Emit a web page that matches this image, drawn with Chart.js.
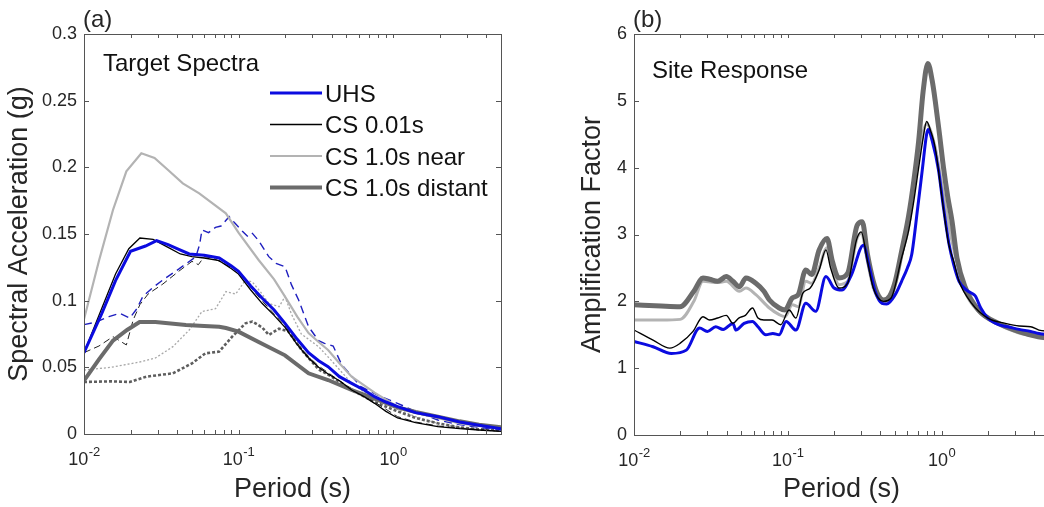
<!DOCTYPE html>
<html>
<head>
<meta charset="utf-8">
<script src="https://cdn.jsdelivr.net/npm/chart.js@4.4.1/dist/chart.umd.min.js"></script>
<style>
  html, body { margin: 0; padding: 0; background: #fff; overflow: hidden; }
  body { width: 1044px; height: 507px; position: relative; }
  #boxA { position: absolute; left: 0; top: 0; width: 520px; height: 507px; }
  #boxB { position: absolute; left: 573px; top: 0; width: 497px; height: 507px; }
</style>
</head>
<body>
<div id="boxA"><canvas id="chartA"></canvas></div>
<div id="boxB"><canvas id="chartB"></canvas></div>
<script>
// ---- axes ----
const xTickVals = [0.01, 0.1, 1];
const xTickExp = ['-2', '-1', '0'];
const yTicksA = [0, 0.05, 0.1, 0.15, 0.2, 0.25, 0.3];
const yTickTextA = ['0', '0.05', '0.1', '0.15', '0.2', '0.25', '0.3'];
const yTicksB = [0, 1, 2, 3, 4, 5, 6];
const legendLabels = ['UHS', 'CS 0.01s', 'CS 1.0s near', 'CS 1.0s distant'];

// ---- (a) target spectra, solid ----
const tUhsA = [0.01, 0.013, 0.016, 0.02, 0.025, 0.0295, 0.035, 0.04, 0.048, 0.06, 0.075, 0.09, 0.1, 0.12, 0.142, 0.17, 0.2, 0.24, 0.284, 0.33, 0.38, 0.45, 0.54, 0.65, 0.76, 0.9, 1.07, 1.4, 1.95, 2.7, 3.6, 5];
const uhsA = [0.061, 0.09, 0.115, 0.137, 0.141, 0.145, 0.142, 0.139, 0.135, 0.134, 0.132, 0.126, 0.122, 0.111, 0.102, 0.093, 0.083, 0.071, 0.061, 0.055, 0.0505, 0.043, 0.038, 0.033, 0.028, 0.024, 0.0205, 0.016, 0.013, 0.009, 0.0065, 0.004];
const tCs001A = [0.01, 0.013, 0.016, 0.0195, 0.023, 0.028, 0.035, 0.042, 0.05, 0.06, 0.075, 0.09, 0.1, 0.12, 0.142, 0.17, 0.2, 0.24, 0.284, 0.33, 0.38, 0.45, 0.54, 0.65, 0.76, 0.9, 1.07, 1.4, 1.95, 2.7, 3.6, 5];
const cs001A = [0.061, 0.094, 0.12, 0.139, 0.147, 0.146, 0.14, 0.135, 0.133, 0.132, 0.13, 0.124, 0.12, 0.108, 0.098, 0.089, 0.08, 0.067, 0.057, 0.05, 0.045, 0.04, 0.033, 0.028, 0.023, 0.017, 0.012, 0.0085, 0.0055, 0.004, 0.003, 0.002];
const tNearA = [0.01, 0.0125, 0.0154, 0.0188, 0.0235, 0.0286, 0.035, 0.0436, 0.0557, 0.0828, 0.1, 0.135, 0.17, 0.2, 0.24, 0.284, 0.33, 0.38, 0.45, 0.54, 0.76, 1.07, 1.4, 1.95, 2.7, 3.6, 5];
const nearA = [0.086, 0.13, 0.168, 0.197, 0.2105, 0.207, 0.198, 0.188, 0.1805, 0.1655, 0.151, 0.1305, 0.116, 0.103, 0.088, 0.0757, 0.069, 0.063, 0.053, 0.043, 0.031, 0.0205, 0.016, 0.012, 0.008, 0.006, 0.004];
const tDistA = [0.01, 0.0125, 0.0154, 0.019, 0.0229, 0.029, 0.0457, 0.06, 0.075, 0.083, 0.1, 0.135, 0.2, 0.284, 0.38, 0.54, 0.76, 1.07, 1.4, 1.95, 2.7, 3.6, 5];
const distA = [0.04, 0.056, 0.07, 0.078, 0.084, 0.084, 0.0818, 0.081, 0.0805, 0.0795, 0.0768, 0.069, 0.059, 0.0455, 0.0405, 0.033, 0.0265, 0.02, 0.0165, 0.013, 0.0095, 0.007, 0.005];

// ---- (a) dashed / dotted ----
const tUhsDashA = [0.01, 0.012, 0.0145, 0.017, 0.0198, 0.022, 0.024, 0.028, 0.0324, 0.0414, 0.053, 0.056, 0.058, 0.064, 0.071, 0.077, 0.087, 0.095, 0.106, 0.115, 0.123, 0.135, 0.157, 0.175, 0.2, 0.22, 0.245, 0.284, 0.33, 0.36, 0.41, 0.465, 0.62, 0.8, 1.07, 1.4, 1.95, 2.7, 3.6, 5];
const uhsDashA = [0.082, 0.084, 0.088, 0.0905, 0.087, 0.094, 0.103, 0.11, 0.1155, 0.124, 0.133, 0.142, 0.153, 0.151, 0.155, 0.156, 0.163, 0.158, 0.152, 0.148, 0.1505, 0.145, 0.133, 0.128, 0.1255, 0.112, 0.1005, 0.0805, 0.07, 0.068, 0.066, 0.052, 0.0355, 0.029, 0.023, 0.017, 0.0105, 0.007, 0.005, 0.003];
const tCsDashA = [0.01, 0.0125, 0.0154, 0.0188, 0.0208, 0.023, 0.026, 0.0324, 0.041, 0.05, 0.055, 0.06, 0.068, 0.08, 0.1, 0.12, 0.142, 0.17, 0.2, 0.24, 0.284, 0.33, 0.38, 0.45, 0.54, 0.76, 1.07, 1.4, 1.95, 2.7, 5];
const csDashA = [0.061, 0.066, 0.073, 0.0668, 0.0855, 0.097, 0.105, 0.1125, 0.122, 0.1295, 0.127, 0.133, 0.132, 0.128, 0.122, 0.11, 0.1, 0.09, 0.081, 0.068, 0.058, 0.051, 0.046, 0.04, 0.034, 0.024, 0.013, 0.009, 0.006, 0.0045, 0.002];
const tNearDotA = [0.01, 0.015, 0.0229, 0.029, 0.0376, 0.048, 0.058, 0.071, 0.083, 0.096, 0.111, 0.123, 0.14, 0.157, 0.183, 0.2, 0.22, 0.255, 0.33, 0.4, 0.54, 0.76, 1.07, 1.4, 1.95, 2.7, 3.6, 5];
const nearDotA = [0.048, 0.05, 0.054, 0.057, 0.0655, 0.078, 0.0918, 0.094, 0.1068, 0.105, 0.1155, 0.114, 0.106, 0.098, 0.0955, 0.103, 0.09, 0.075, 0.0655, 0.055, 0.038, 0.026, 0.0185, 0.013, 0.008, 0.005, 0.003, 0.002];
const tDistDotA = [0.01, 0.015, 0.0198, 0.0253, 0.0376, 0.05, 0.061, 0.075, 0.091, 0.111, 0.123, 0.142, 0.157, 0.183, 0.21, 0.256, 0.33, 0.4, 0.54, 0.76, 1.07, 1.4, 1.95, 2.7, 3.6, 5];
const distDotA = [0.039, 0.0395, 0.039, 0.043, 0.0455, 0.053, 0.0605, 0.0618, 0.073, 0.083, 0.0843, 0.08, 0.0743, 0.079, 0.077, 0.063, 0.0485, 0.043, 0.033, 0.024, 0.017, 0.012, 0.008, 0.005, 0.0035, 0.003];

// ---- (b) site response ----
const tDistB = [0.01, 0.015, 0.0199, 0.0245, 0.0281, 0.031, 0.035, 0.0398, 0.044, 0.0485, 0.0535, 0.062, 0.07, 0.076, 0.088, 0.096, 0.107, 0.117, 0.131, 0.143, 0.16, 0.18, 0.195, 0.215, 0.245, 0.283, 0.305, 0.33, 0.36, 0.39, 0.42, 0.46, 0.5, 0.55, 0.61, 0.66, 0.71, 0.76, 0.815, 0.87, 0.91, 0.97, 1.03, 1.1, 1.17, 1.26, 1.42, 1.74, 2.35, 3.16, 4.26, 5];
const distB = [1.95, 1.93, 1.92, 2.15, 2.35, 2.33, 2.3, 2.37, 2.3, 2.22, 2.35, 2.27, 2.15, 2.02, 1.9, 1.87, 2.05, 2.1, 2.47, 2.4, 2.77, 2.94, 2.6, 2.35, 2.42, 3.14, 3.19, 2.7, 2.3, 2.08, 2.02, 2.08, 2.3, 2.75, 3.27, 3.8, 4.4, 5.15, 5.56, 5.3, 5.0, 4.5, 4.0, 3.55, 3.2, 2.65, 2.22, 1.87, 1.67, 1.55, 1.47, 1.45];
const tNearB = [0.01, 0.015, 0.02, 0.0245, 0.0281, 0.035, 0.0398, 0.0485, 0.0535, 0.062, 0.076, 0.088, 0.096, 0.107, 0.117, 0.131, 0.143, 0.16, 0.18, 0.195, 0.215, 0.245, 0.283, 0.3, 0.33, 0.36, 0.42, 0.47, 0.55, 0.61, 0.71, 0.8, 0.91, 1.03, 1.17, 1.42, 1.74, 2.35, 3.16, 4.26, 5];
const nearB = [1.72, 1.72, 1.73, 2.0, 2.3, 2.28, 2.3, 2.15, 2.2, 2.1, 1.9, 1.8, 1.77, 1.95, 1.92, 2.3, 2.27, 2.5, 2.8, 2.5, 2.25, 2.3, 2.95, 3.02, 2.6, 2.2, 2.0, 2.05, 2.7, 3.1, 4.2, 4.65, 4.3, 3.6, 2.9, 2.15, 1.85, 1.65, 1.53, 1.47, 1.45];
const tCs001B = [0.01, 0.0133, 0.0171, 0.0199, 0.0242, 0.0281, 0.031, 0.035, 0.0398, 0.044, 0.048, 0.053, 0.059, 0.064, 0.07, 0.079, 0.09, 0.102, 0.113, 0.125, 0.14, 0.16, 0.177, 0.19, 0.215, 0.245, 0.28, 0.3, 0.33, 0.36, 0.42, 0.47, 0.55, 0.61, 0.66, 0.71, 0.76, 0.8, 0.85, 0.91, 1.0, 1.11, 1.2, 1.3, 1.57, 2.0, 2.6, 3.2, 3.8, 4.3, 5];
const cs001B = [1.57, 1.42, 1.3, 1.37, 1.55, 1.77, 1.72, 1.75, 1.79, 1.67, 1.75, 1.79, 1.9, 1.75, 1.72, 1.72, 1.65, 1.87, 1.75, 2.12, 2.2, 2.47, 2.77, 2.5, 2.2, 2.27, 2.92, 3.04, 2.6, 2.2, 2.0, 2.05, 2.65, 3.05, 3.5, 4.0, 4.45, 4.69, 4.55, 4.3, 3.6, 2.87, 2.6, 2.3, 1.97, 1.75, 1.67, 1.63, 1.62, 1.57, 1.55];
const tUhsB = [0.01, 0.0133, 0.0175, 0.0219, 0.0267, 0.03, 0.034, 0.038, 0.044, 0.046, 0.052, 0.059, 0.064, 0.072, 0.08, 0.088, 0.0975, 0.113, 0.131, 0.152, 0.177, 0.2, 0.225, 0.26, 0.31, 0.34, 0.37, 0.41, 0.44, 0.5, 0.55, 0.6, 0.64, 0.7, 0.75, 0.8, 0.82, 0.87, 0.955, 1.03, 1.12, 1.2, 1.3, 1.45, 1.57, 1.66, 1.8, 2.0, 2.35, 2.7, 3.2, 3.8, 4.3, 5];
const uhsB = [1.4, 1.32, 1.22, 1.27, 1.6, 1.55, 1.62, 1.58, 1.67, 1.57, 1.67, 1.7, 1.62, 1.5, 1.52, 1.5, 1.7, 1.57, 1.97, 1.85, 2.37, 2.2, 2.17, 2.4, 2.84, 2.5, 2.15, 1.97, 1.96, 2.1, 2.3, 2.5, 2.7, 3.4, 3.97, 4.5, 4.57, 4.4, 3.97, 3.4, 2.85, 2.55, 2.3, 2.17, 2.12, 2.08, 1.9, 1.75, 1.65, 1.62, 1.58, 1.55, 1.52, 1.5];

const FONT = 'Arial, "Liberation Sans", Helvetica, sans-serif';
const TXT = '#262626';
const BLUE = '#0b0be0';
const LIGHT = '#b3b3b3';
const DARK = '#6b6b6b';

function pts(xs, ys) {
    return xs.map((x, i) => ({ x: x, y: ys[i] }));
}

function line(label, xs, ys, color, width, dash, smooth) {
    return {
        label: label,
        data: pts(xs, ys),
        borderColor: color,
        borderWidth: width,
        borderDash: dash || [],
        pointRadius: 0,
        fill: false,
        cubicInterpolationMode: smooth ? 'monotone' : 'default',
        tension: smooth ? 0.4 : 0
    };
}

// 內側刻度、外框與 10^n 標籤 (MATLAB 風格)
const matlabAxes = {
    id: 'matlabAxes',
    afterDatasetsDraw(chart) {
        const { ctx, chartArea: a, scales: { x, y } } = chart;
        ctx.save();
        ctx.strokeStyle = '#555';
        ctx.lineWidth = 1;
        ctx.beginPath();
        y.ticks.forEach(t => {
            const py = Math.round(y.getPixelForValue(t.value)) + 0.5;
            ctx.moveTo(a.left, py); ctx.lineTo(a.left + 5, py);
            ctx.moveTo(a.right, py); ctx.lineTo(a.right - 5, py);
        });
        for (let d = -2; d <= 0; d++) {
            for (let m = 1; m <= 9; m++) {
                const v = m * Math.pow(10, d);
                if (v < x.min || v > x.max) continue;
                const px = Math.round(x.getPixelForValue(v)) + 0.5;
                ctx.moveTo(px, a.bottom); ctx.lineTo(px, a.bottom - 4);
                ctx.moveTo(px, a.top); ctx.lineTo(px, a.top + 4);
            }
        }
        ctx.stroke();
        ctx.strokeRect(Math.round(a.left) + 0.5, Math.round(a.top) + 0.5,
            Math.round(a.right - a.left), Math.round(a.bottom - a.top));

        // x 軸標籤: 10 與上標指數
        ctx.fillStyle = TXT;
        ctx.textBaseline = 'alphabetic';
        ctx.textAlign = 'left';
        xTickVals.forEach((v, i) => {
            const px = x.getPixelForValue(v);
            ctx.font = '18px ' + FONT;
            const wb = ctx.measureText('10').width;
            ctx.font = '13px ' + FONT;
            const we = ctx.measureText(xTickExp[i]).width;
            const x0 = px - (wb + we) / 2;
            ctx.font = '18px ' + FONT;
            ctx.fillText('10', x0, a.bottom + 31);
            ctx.font = '13px ' + FONT;
            ctx.fillText(xTickExp[i], x0 + wb + 0.5, a.bottom + 22);
        });
        ctx.restore();
    }
};

// 面板字母、內部標註、圖例
const panelText = {
    id: 'panelText',
    afterDraw(chart, args, opts) {
        const ctx = chart.ctx;
        const a = chart.chartArea;
        ctx.save();
        ctx.fillStyle = TXT;
        ctx.textBaseline = 'alphabetic';
        ctx.textAlign = 'left';
        ctx.font = '24px ' + FONT;
        ctx.fillText(opts.letter, a.left - 1, 27);
        ctx.fillStyle = '#111';
        ctx.fillText(opts.note, a.left + opts.noteDx, opts.noteY);
        if (opts.legend) {
            legendLabels.forEach((lab, i) => {
                const ds = chart.data.datasets.find(d => d.label === lab);
                const yy = 93 + i * 31.5;
                ctx.strokeStyle = ds.borderColor;
                ctx.lineWidth = ds.borderWidth;
                ctx.beginPath();
                ctx.moveTo(270, yy); ctx.lineTo(322, yy);
                ctx.stroke();
                ctx.textBaseline = 'middle';
                ctx.fillText(lab, 325, yy + 2);
            });
        }
        ctx.restore();
    }
};

function makeOptions(p) {
    return {
        responsive: true,
        maintainAspectRatio: false,
        animation: false,
        layout: { padding: { left: 0, right: p.padRight, top: 34, bottom: 0 } },
        plugins: {
            legend: { display: false },
            tooltip: { enabled: false },
            panelText: p.text
        },
        scales: {
            x: {
                type: 'logarithmic',
                min: 0.01,
                max: 5,
                grid: { display: false, drawTicks: false },
                border: { display: false },
                afterBuildTicks: s => { s.ticks = xTickVals.map(v => ({ value: v })); },
                afterFit: s => { s.height = p.xHeight; },
                ticks: { display: false },
                title: {
                    display: true,
                    text: 'Period (s)',
                    color: TXT,
                    font: { family: FONT, size: 27 },
                    padding: { top: 0, bottom: 1 }
                }
            },
            y: {
                min: p.yTicks[0],
                max: p.yTicks[p.yTicks.length - 1],
                grid: { display: false, drawTicks: false },
                border: { display: false },
                afterBuildTicks: s => { s.ticks = p.yTicks.map(v => ({ value: v })); },
                afterFit: s => { s.width = p.yWidth; },
                ticks: {
                    padding: 7,
                    color: TXT,
                    font: { family: FONT, size: 18 },
                    callback: v => p.yText[p.yTicks.indexOf(v)]
                },
                title: {
                    display: true,
                    text: p.yTitle,
                    color: TXT,
                    font: { family: FONT, size: 27 },
                    padding: { top: 3, bottom: 0 }
                }
            }
        }
    };
}

function initCharts() {
    // (a) 目標反應譜
    new Chart(document.getElementById('chartA'), {
        type: 'line',
        data: {
            datasets: [
                line('UHS', tUhsA, uhsA, BLUE, 3),
                line('CS 0.01s', tCs001A, cs001A, '#000', 1.3),
                line('CS 1.0s distant', tDistA, distA, DARK, 4),
                line('CS 1.0s near', tNearA, nearA, LIGHT, 2.2),
                line('UHS surface', tUhsDashA, uhsDashA, '#1f1fbf', 1.4, [8, 5]),
                line('CS 0.01s surface', tCsDashA, csDashA, '#222', 1, [7, 4]),
                line('CS 1.0s distant surface', tDistDotA, distDotA, '#5e5e5e', 2.6, [3, 2]),
                line('CS 1.0s near surface', tNearDotA, nearDotA, '#a8a8a8', 1.3, [2, 2])
            ]
        },
        options: makeOptions({
            padRight: 19, xHeight: 73, yWidth: 84,
            yTicks: yTicksA, yText: yTickTextA,
            yTitle: 'Spectral Acceleration (g)',
            text: { letter: '(a)', note: 'Target Spectra', noteDx: 19, noteY: 71, legend: true }
        }),
        plugins: [matlabAxes, panelText]
    });

    // (b) 場址反應
    new Chart(document.getElementById('chartB'), {
        type: 'line',
        data: {
            datasets: [
                line('CS 0.01s', tCs001B, cs001B, '#000', 1.4, null, true),
                line('UHS', tUhsB, uhsB, BLUE, 3, null, true),
                line('CS 1.0s distant', tDistB, distB, DARK, 5, null, true),
                line('CS 1.0s near', tNearB, nearB, LIGHT, 3, null, true)
            ]
        },
        options: makeOptions({
            padRight: 21, xHeight: 72, yWidth: 61,
            yTicks: yTicksB, yText: yTicksB.map(String),
            yTitle: 'Amplification Factor',
            text: { letter: '(b)', note: 'Site Response', noteDx: 18, noteY: 78, legend: false }
        }),
        plugins: [matlabAxes, panelText]
    });
}

window.addEventListener('load', initCharts);
</script>
</body>
</html>
